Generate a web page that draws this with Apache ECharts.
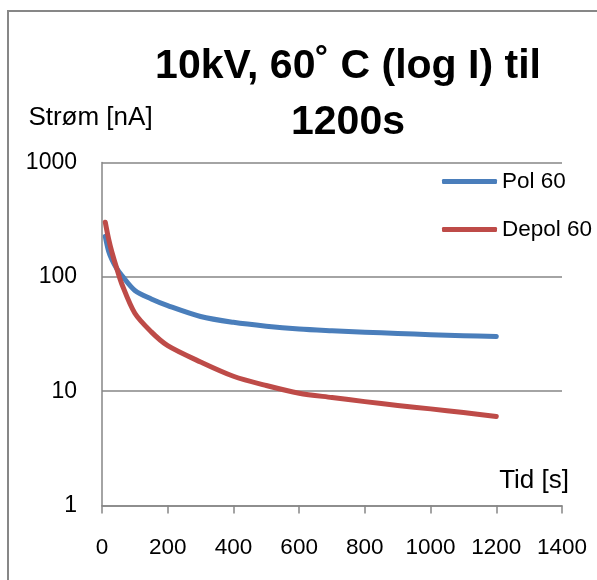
<!DOCTYPE html>
<html>
<head>
<meta charset="utf-8">
<script src="https://cdn.jsdelivr.net/npm/echarts@6/dist/echarts.min.js"></script>
<style>
  html, body { margin: 0; padding: 0; background: #fff; }
  #chart { width: 597px; height: 580px; }
</style>
</head>
<body>
<div id="chart"></div>
<script>
// Time in seconds and measured current in nA
const times = [10, 20, 30, 45, 60, 100, 150, 200, 300, 400, 500, 600, 700, 800, 900, 1000, 1100, 1200];
const pol60 = [225, 168, 142, 118, 103, 76, 64, 56, 45, 40, 37, 35, 33.8, 32.8, 32, 31.2, 30.6, 30];
const depol60 = [300, 215, 165, 118, 87, 48, 33, 25, 18, 13.5, 11.2, 9.6, 8.8, 8.1, 7.5, 7.0, 6.5, 6.0];
const seriesNames = ['Pol 60', 'Depol 60'];
const xTicks = [0, 1400, 200];      // min, max, interval
const yRange = [1, 1000];

const FONT = "'Liberation Sans', Arial, sans-serif";
const GRAY = '#868686';

const chart = echarts.init(document.getElementById('chart'), null, { renderer: 'canvas' });

const pairs = arr => times.map((t, i) => [t, arr[i]]);

chart.setOption({
  backgroundColor: '#fff',
  animation: false,
  textStyle: { fontFamily: FONT, color: '#000' },
  title: {
    text: '10kV, 60\u02DA C (log I) til\n1200s',
    left: 343,
    top: 34,
    textAlign: 'center',
    textStyle: { fontFamily: FONT, fontSize: 41, fontWeight: 'bold', color: '#000', lineHeight: 56 }
  },
  graphic: [{
    type: 'rect',
    silent: true,
    shape: { x: 8, y: 11, width: 800, height: 800 },
    style: { fill: 'none', stroke: '#878787', lineWidth: 2 }
  }],
  legend: {
    data: seriesNames,
    orient: 'vertical',
    left: 437,
    top: 165,
    itemWidth: 55,
    itemHeight: 5,
    itemGap: 25,
    icon: 'roundRect',
    textStyle: { fontFamily: FONT, fontSize: 22.5, color: '#000' }
  },
  grid: { left: 102, right: 35, top: 162.5, bottom: 74.5, containLabel: false },
  xAxis: {
    type: 'value',
    min: xTicks[0], max: xTicks[1], interval: xTicks[2],
    name: 'Tid [s]',
    nameLocation: 'end',
    nameGap: 7,
    nameTextStyle: { fontFamily: FONT, fontSize: 26, color: '#000', align: 'right', verticalAlign: 'bottom', padding: [0, 0, 12, 0] },
    axisLine: { show: true, lineStyle: { color: GRAY, width: 1.5 } },
    axisTick: { show: true, length: 8, lineStyle: { color: GRAY, width: 1.5 } },
    axisLabel: { fontFamily: FONT, fontSize: 22.5, color: '#000', margin: 31, formatter: v => String(v) },
    splitLine: { show: false }
  },
  yAxis: {
    type: 'log',
    logBase: 10,
    min: yRange[0], max: yRange[1],
    name: 'Strøm [nA]',
    nameLocation: 'end',
    nameGap: 45,
    nameTextStyle: { fontFamily: FONT, fontSize: 26, color: '#000', align: 'center', verticalAlign: 'middle', padding: [0, 23, 0, 0] },
    axisLine: { show: true, lineStyle: { color: GRAY, width: 1.5 } },
    axisTick: { show: false },
    axisLabel: { fontFamily: FONT, fontSize: 23, color: '#000', margin: 25, formatter: v => String(v) },
    splitLine: { show: true, lineStyle: { color: GRAY, width: 1.5 } },
    minorTick: { show: false },
    minorSplitLine: { show: false }
  },
  series: [
    {
      name: seriesNames[0],
      type: 'line',
      data: pairs(pol60),
      symbol: 'none',
      smooth: 0.3,
      color: '#4A7EBB',
      lineStyle: { color: '#4A7EBB', width: 5, cap: 'round', join: 'round' }
    },
    {
      name: seriesNames[1],
      type: 'line',
      data: pairs(depol60),
      symbol: 'none',
      smooth: 0.3,
      color: '#BE4B48',
      lineStyle: { color: '#BE4B48', width: 5, cap: 'round', join: 'round' }
    }
  ]
});
</script>
</body>
</html>
